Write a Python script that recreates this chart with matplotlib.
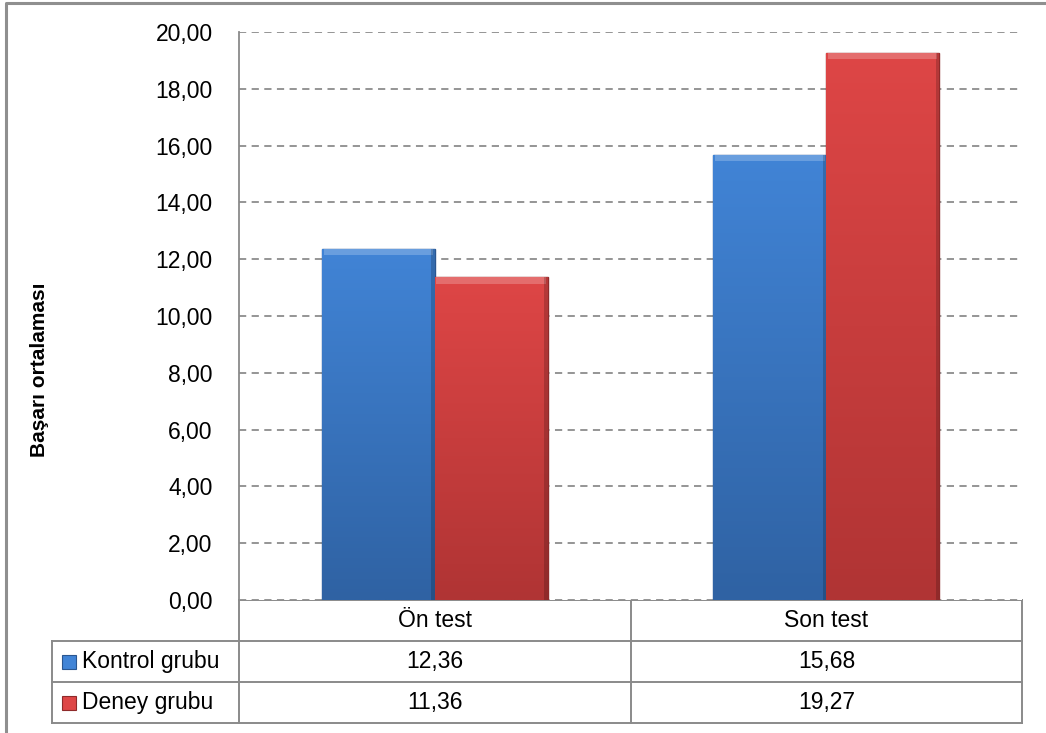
import numpy as np
import matplotlib.pyplot as plt
from matplotlib.patches import Rectangle
from matplotlib.colors import LinearSegmentedColormap

# data
categories = ["Ön test", "Son test"]
series = ["Kontrol grubu", "Deney grubu"]
kontrol = [12.36, 15.68]
deney = [11.36, 19.27]
values = [kontrol, deney]

top_colors = ["#4184d6", "#de4646"]
bottom_colors = ["#2f62a3", "#b03434"]
edge_colors = ["#2a5690", "#8e2a2a"]
grid_color = "#8c8c8c"
line_color = "#8a8a8a"

plt.rcParams['font.family'] = ['Liberation Sans', 'DejaVu Sans']

W, H = 1046, 733
fig = plt.figure(figsize=(W / 100, H / 100), dpi=100)

# pixel layout of the plot area
x0, x1 = 239, 1022
y_top, y_bot = 32, 600
ax = fig.add_axes([x0 / W, 1 - y_bot / H, (x1 - x0) / W, (y_bot - y_top) / H])

bw = 0.288
offsets = [-bw / 2, bw / 2]
xs = np.arange(len(categories))
grad = np.linspace(1, 0, 256).reshape(-1, 1)

for i, s in enumerate(series):
    bars = ax.bar(xs + offsets[i], values[i], width=bw, color=top_colors[i],
                  edgecolor=edge_colors[i], linewidth=1.0, zorder=3)
    cmap = LinearSegmentedColormap.from_list("g%d" % i, [bottom_colors[i], top_colors[i]])
    for b in bars:
        bx, by = b.get_x(), b.get_y()
        bwid, bh = b.get_width(), b.get_height()
        im = ax.imshow(grad, extent=[bx, bx + bwid, by, by + bh], cmap=cmap,
                       aspect='auto', zorder=3.5, interpolation='bilinear')
        im.set_clip_path(b)
        # top bevel highlight
        ax.bar(bx + bwid / 2, 0.22, bottom=by + bh - 0.22, width=bwid * 0.97,
               color="white", alpha=0.22, linewidth=0, zorder=4)
        # right-side shade
        ax.bar(bx + bwid * 0.985, bh, width=bwid * 0.03, color="black",
               alpha=0.18, linewidth=0, zorder=4)

ax.set_xlim(-0.5, len(categories) - 0.5)
ax.set_ylim(0, 20)
ax.set_yticks(np.arange(0, 21, 2))
ax.set_yticklabels(["%.2f" % v for v in np.arange(0, 21, 2)])
ax.set_yticklabels([t.get_text().replace(".", ",") for t in ax.get_yticklabels()])
ax.set_xticks([])
ax.tick_params(axis='y', length=0, pad=19, labelsize=16.5)
ax.yaxis.grid(True, color=grid_color, linestyle=(0, (4, 3)), linewidth=1.3, zorder=0)
ax.set_axisbelow(True)
for side in ["top", "right", "bottom"]:
    ax.spines[side].set_visible(False)
ax.spines["left"].set_color(line_color)
ax.spines["left"].set_linewidth(1.3)

# overlay in pixel coordinates for the data table and frame
ov = fig.add_axes([0, 0, 1, 1], zorder=-1)
ov.set_xlim(0, W)
ov.set_ylim(H, 0)
ov.axis("off")
ov.patch.set_alpha(0)

# outer frame
ov.plot([6, 6, W + 5], [H + 5, 3, 3], color="#8f8f8f", lw=2.2)

# table lines
row_y = [600, 641, 682, 723]
col_x = [52, 239, 631, 1022]
ov.plot([239, 1022], [row_y[0], row_y[0]], color=line_color, lw=1.4)
for y in row_y[1:]:
    ov.plot([52, 1022], [y, y], color=line_color, lw=1.4)
ov.plot([52, 52], [row_y[1], row_y[3]], color=line_color, lw=1.4)
for x in col_x[1:]:
    ov.plot([x, x], [row_y[0], row_y[3]], color=line_color, lw=1.4)

# table text
for j, c in enumerate(categories):
    cx = (col_x[j + 1] + col_x[j + 2]) / 2
    ov.text(cx, (row_y[0] + row_y[1]) / 2, c, ha="center", va="center", fontsize=16.5)
    for i in range(len(series)):
        ov.text(cx, (row_y[i + 1] + row_y[i + 2]) / 2, ("%.2f" % values[i][j]).replace(".", ","),
                ha="center", va="center", fontsize=16.5)

for i, s in enumerate(series):
    yc = (row_y[i + 1] + row_y[i + 2]) / 2
    ov.add_patch(Rectangle((62, yc - 7), 14, 14, facecolor=top_colors[i],
                           edgecolor=edge_colors[i], lw=0.8))
    ov.text(82, yc, s, ha="left", va="center", fontsize=16.5)

fig.text(40 / W, 1 - 370 / H, "Başarı ortalaması", rotation=90, ha="center",
         va="center", fontsize=15, fontweight="bold")

fig.savefig("out.png", dpi=100)
